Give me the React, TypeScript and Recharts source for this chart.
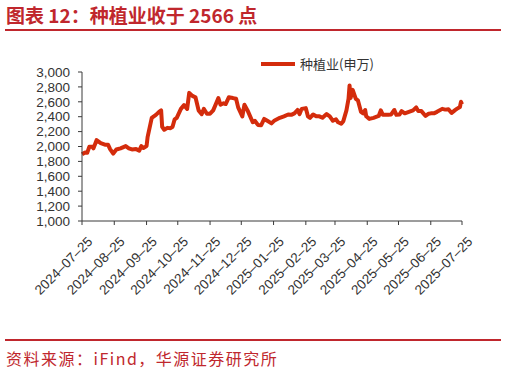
import { LineChart, Line, XAxis, YAxis, Legend } from "recharts"

const TITLE = "图表 12：种植业收于 2566 点"
const SOURCE = "资料来源：iFind，华源证券研究所"
const SERIES_NAME = "种植业(申万)"

const RED_DARK = "#C0272D"
const C_LINE = "#D42C0C"
const C_AXIS = "#3a3a3a"
const C_TEXT = "#333333"

const dates = [
  "2024-07-25", "2024-07-28", "2024-07-30", "2024-08-01", "2024-08-04", "2024-08-05",
  "2024-08-08", "2024-08-12", "2024-08-16", "2024-08-19", "2024-08-21", "2024-08-24",
  "2024-08-27", "2024-08-31", "2024-09-05", "2024-09-08", "2024-09-11", "2024-09-15",
  "2024-09-18", "2024-09-20", "2024-09-22", "2024-09-25", "2024-09-26", "2024-09-30",
  "2024-10-04", "2024-10-07", "2024-10-09", "2024-10-10", "2024-10-12", "2024-10-15",
  "2024-10-18", "2024-10-20", "2024-10-22", "2024-10-24", "2024-10-28", "2024-10-31",
  "2024-11-03", "2024-11-05", "2024-11-08", "2024-11-11", "2024-11-14", "2024-11-17",
  "2024-11-19", "2024-11-22", "2024-11-25", "2024-11-28", "2024-12-01", "2024-12-03",
  "2024-12-05", "2024-12-08", "2024-12-10", "2024-12-13", "2024-12-17", "2024-12-20",
  "2024-12-22", "2024-12-26", "2024-12-28", "2024-12-31", "2025-01-05", "2025-01-07",
  "2025-01-10", "2025-01-13", "2025-01-16", "2025-01-19", "2025-01-23", "2025-01-26",
  "2025-01-31", "2025-02-04", "2025-02-08", "2025-02-11", "2025-02-14", "2025-02-17",
  "2025-02-19", "2025-02-21", "2025-02-25", "2025-02-27", "2025-03-01", "2025-03-04",
  "2025-03-07", "2025-03-10", "2025-03-13", "2025-03-17", "2025-03-20", "2025-03-23",
  "2025-03-26", "2025-03-28", "2025-03-31", "2025-04-02", "2025-04-05", "2025-04-07",
  "2025-04-08", "2025-04-09", "2025-04-11", "2025-04-14", "2025-04-16", "2025-04-19",
  "2025-04-21", "2025-04-23", "2025-04-24", "2025-04-27", "2025-05-01", "2025-05-06",
  "2025-05-08", "2025-05-10", "2025-05-15", "2025-05-18", "2025-05-21", "2025-05-23",
  "2025-05-26", "2025-05-28", "2025-05-31", "2025-06-04", "2025-06-08", "2025-06-11",
  "2025-06-13", "2025-06-16", "2025-06-20", "2025-06-23", "2025-06-25", "2025-06-28",
  "2025-07-01", "2025-07-06", "2025-07-09", "2025-07-12", "2025-07-15", "2025-07-18",
  "2025-07-20", "2025-07-23", "2025-07-24", "2025-07-25",
]

const values = [
  1895, 1920, 1915, 1995, 1995, 1975,
  2085, 2045, 2025, 2025, 1965, 1905,
  1960, 1975, 2005, 1975, 1960, 1965,
  1945, 2005, 1980, 2005, 2125, 2385,
  2425, 2465, 2485, 2265, 2225, 2250,
  2245, 2265, 2365, 2385, 2505, 2555,
  2505, 2720, 2680, 2660, 2485, 2435,
  2505, 2440, 2440, 2485, 2585, 2650,
  2560, 2580, 2570, 2660, 2650, 2640,
  2525, 2405, 2560, 2485, 2325, 2345,
  2290, 2285, 2370, 2345, 2310, 2350,
  2385, 2405, 2430, 2425, 2445, 2490,
  2435, 2505, 2515, 2405, 2385, 2430,
  2405, 2405, 2385, 2435, 2405, 2345,
  2365, 2325, 2305, 2340, 2485, 2640,
  2820, 2650, 2760, 2640, 2620, 2465,
  2445, 2490, 2405, 2370, 2385, 2410,
  2485, 2425, 2425, 2430, 2490, 2425,
  2430, 2475, 2445, 2465, 2485, 2525,
  2475, 2475, 2410, 2440, 2445, 2445,
  2465, 2505, 2495, 2500, 2450, 2485,
  2505, 2530, 2600, 2566,
]

const xTickDates = [
  "2024-07-25", "2024-08-25", "2024-09-25", "2024-10-25", "2024-11-25", "2024-12-25",
  "2025-01-25", "2025-02-25", "2025-03-25", "2025-04-25", "2025-05-25", "2025-06-25",
  "2025-07-25",
]

const yTicks = [1000, 1200, 1400, 1600, 1800, 2000, 2200, 2400, 2600, 2800, 3000]

const toTime = (d: string) => Date.parse(d)

const chartData = dates.map((d, i) => ({ t: toTime(d), v: values[i] }))
const xTicks = xTickDates.map(toTime)

function fmtDate(t: number) {
  const d = new Date(t)
  const mm = String(d.getUTCMonth() + 1).padStart(2, "0")
  const dd = String(d.getUTCDate()).padStart(2, "0")
  return `${d.getUTCFullYear()}–${mm}–${dd}`
}

function XTick(props: any) {
  const { x, y, payload } = props
  return (
    <g transform={`translate(${x + 5},${y + 9})`}>
      <text
        x={0}
        y={0}
        dy={9}
        textAnchor="end"
        transform="rotate(-45)"
        fontSize={13.5}
        fill={C_TEXT}
        fontFamily="'Liberation Sans', Arial, sans-serif"
      >
        {fmtDate(payload.value)}
      </text>
    </g>
  )
}

function LegendBox() {
  return (
    <div style={{ display: "flex", alignItems: "center" }}>
      <div style={{ width: 34, height: 4, background: C_LINE, marginRight: 5 }} />
      <span style={{ fontSize: 13, color: C_TEXT, fontFamily: "'Noto Sans CJK SC', sans-serif" }}>
        {SERIES_NAME}
      </span>
    </div>
  )
}

export default function App() {
  return (
    <div
      style={{
        position: "absolute",
        left: 0,
        top: 0,
        width: 506,
        height: 373,
        background: "#fff",
        fontFamily: "'Noto Sans CJK SC', sans-serif",
      }}
    >
      <div
        style={{
          position: "absolute",
          left: 6,
          top: 3,
          fontSize: 19,
          fontWeight: 700,
          color: RED_DARK,
          lineHeight: "24px",
          whiteSpace: "nowrap",
        }}
      >
        {TITLE}
      </div>
      <div style={{ position: "absolute", left: 5, top: 29, width: 496, height: 2, background: RED_DARK }} />

      <div style={{ position: "absolute", left: 0, top: 0 }}>
        <LineChart
          width={506}
          height={320}
          data={chartData}
          margin={{ top: 53, right: 44, left: 22, bottom: 29 }}
        >
          <XAxis
            dataKey="t"
            type="number"
            scale="time"
            domain={[xTicks[0], xTicks[xTicks.length - 1]]}
            ticks={xTicks}
            interval={0}
            height={70}
            tick={<XTick />}
            tickSize={4}
            tickMargin={2}
            axisLine={{ stroke: C_AXIS }}
            tickLine={{ stroke: C_AXIS }}
          />
          <YAxis
            domain={[1000, 3000]}
            ticks={yTicks}
            interval={0}
            width={60}
            tickSize={4}
            tickMargin={8}
            tick={{ fontSize: 13.5, fill: C_TEXT, fontFamily: "'Liberation Sans', Arial, sans-serif" }}
            tickFormatter={(v: number) => v.toLocaleString("en-US")}
            axisLine={{ stroke: C_AXIS }}
            tickLine={{ stroke: C_AXIS }}
          />
          <Legend
            content={<LegendBox />}
            verticalAlign="top"
            wrapperStyle={{ top: 54, left: 261, width: "auto" }}
          />
          <Line
            type="linear"
            dataKey="v"
            name={SERIES_NAME}
            stroke={C_LINE}
            strokeWidth={4}
            dot={false}
            strokeLinejoin="round"
            isAnimationActive={false}
          />
        </LineChart>
      </div>

      <div style={{ position: "absolute", left: 5, top: 339, width: 496, height: 2, background: RED_DARK }} />
      <div
        style={{
          position: "absolute",
          left: 6,
          top: 347,
          fontSize: 16,
          color: RED_DARK,
          letterSpacing: 1.5,
          lineHeight: "22px",
          whiteSpace: "nowrap",
        }}
      >
        {SOURCE}
      </div>
    </div>
  )
}
